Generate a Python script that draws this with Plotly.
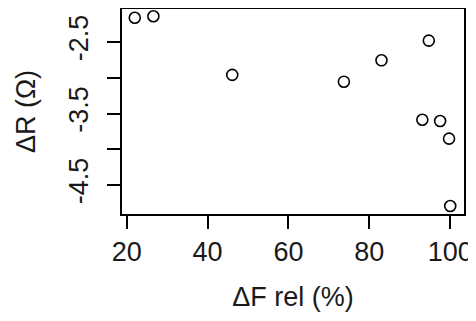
import plotly.graph_objects as go

# Data
delta_f_rel = [22.0, 26.6, 46.1, 73.7, 83.0, 94.7, 93.1, 97.5, 99.7, 100.0]
delta_r = [-2.16, -2.14, -2.96, -3.055, -2.756, -2.48, -3.587, -3.605, -3.852, -4.794]

x_tick_vals = [20, 40, 60, 80, 100]
x_tick_text = ["20", "40", "60", "80", "100"]
y_tick_vals = [-2.5, -3.0, -3.5, -4.0, -4.5]
y_tick_text = ["-2.5", "", "-3.5", "", "-4.5"]

FONT = "Arial, Liberation Sans, sans-serif"
FS = 27

fig = go.Figure()
fig.add_trace(go.Scatter(
    x=delta_f_rel, y=delta_r, mode="markers",
    marker=dict(symbol="circle-open", size=11, color="black",
                line=dict(color="black", width=1.6)),
    showlegend=False,
))

# page body has an 8px margin; figure is sized to fill the remaining window
fig.update_layout(
    width=468, height=313,
    margin=dict(l=114, r=12, t=1, b=107, autoexpand=False),
    paper_bgcolor="white", plot_bgcolor="white",
    font=dict(family=FONT, size=FS, color="#1a1a1a"),
    xaxis=dict(
        range=[18.84, 103.4], tickvals=x_tick_vals, ticktext=x_tick_text,
        showgrid=False, zeroline=False, showline=True, mirror=True,
        linecolor="black", linewidth=1.6, automargin=False,
        ticks="outside", ticklen=13, tickwidth=1.6, tickcolor="black",
        tickfont=dict(family=FONT, size=FS),
        title=dict(text="ΔF rel (%)", font=dict(family=FONT, size=FS), standoff=21),
    ),
    yaxis=dict(
        range=[-4.906, -2.038], tickvals=y_tick_vals, ticktext=y_tick_text,
        showgrid=False, zeroline=False, showline=True, mirror=True,
        linecolor="black", linewidth=1.6, automargin=False,
        ticks="outside", ticklen=13, tickwidth=1.6, tickcolor="black",
        tickangle=-90, ticklabelstandoff=8,
        tickfont=dict(family=FONT, size=FS),
        title=dict(text="ΔR (Ω)", font=dict(family=FONT, size=FS), standoff=21),
    ),
)

fig.write_html("out.html")
